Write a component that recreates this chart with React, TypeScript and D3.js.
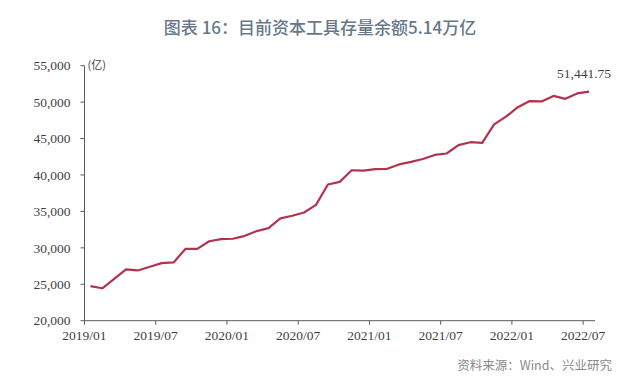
import React from "react";
import * as d3 from "d3";

const months: string[] = [
  "2019/01","2019/02","2019/03","2019/04","2019/05","2019/06","2019/07","2019/08","2019/09","2019/10","2019/11","2019/12",
  "2020/01","2020/02","2020/03","2020/04","2020/05","2020/06","2020/07","2020/08","2020/09","2020/10","2020/11","2020/12",
  "2021/01","2021/02","2021/03","2021/04","2021/05","2021/06","2021/07","2021/08","2021/09","2021/10","2021/11","2021/12",
  "2022/01","2022/02","2022/03","2022/04","2022/05","2022/06","2022/07",
];

const values: number[] = [
  24750, 24450, 25750, 27050, 26900, 27400, 27900, 28000, 29850, 29850, 30900, 31200,
  31250, 31650, 32300, 32700, 34050, 34400, 34850, 35900, 38700, 39050, 40650, 40600,
  40800, 40850, 41450, 41800, 42200, 42750, 42950, 44100, 44500, 44400, 46950, 48000,
  49300, 50150, 50100, 50850, 50450, 51200, 51441.75,
];

const xTickLabels: string[] = ["2019/01","2019/07","2020/01","2020/07","2021/01","2021/07","2022/01","2022/07"];
const yTicks: number[] = [20000, 25000, 30000, 35000, 40000, 45000, 50000, 55000];

const title = "图表 16：目前资本工具存量余额5.14万亿";
const unitLabel = "(亿)";
const lastLabel = "51,441.75";
const source = "资料来源：Wind、兴业研究";

const W = 640, H = 390;
const left = 84.5, right = 595, top = 65.7, bottom = 320.7;

export default function App() {
  const x = d3.scaleLinear().domain([0, months.length]).range([left, right]);
  const y = d3.scaleLinear().domain([20000, 55000]).range([bottom, top]);
  const line = d3.line<number>().x((_, i) => x(i + 0.5)).y((d) => y(d));
  const fmt = d3.format(",");
  const serif = "'Liberation Serif', 'Times New Roman', serif";
  const cjk = "'Noto Sans CJK SC', 'Noto Sans', sans-serif";
  const axisColor = "#5a5a5a";
  const textColor = "#3f3f3f";
  const lastIdx = values.length - 1;

  return (
    <svg width={W} height={H} style={{ position: "absolute", left: 0, top: 0, background: "#fff" }}>
      <rect x={0} y={0} width={W} height={H} fill="#fff" />
      <text x={320} y={34} textAnchor="middle" fontFamily={cjk} fontSize={17} fontWeight={500} fill="#687789">
        {title}
      </text>
      {/* y axis */}
      <line x1={left} x2={left} y1={top} y2={bottom} stroke={axisColor} strokeWidth={1} />
      {yTicks.map((t) => (
        <g key={t}>
          <line x1={left - 4} x2={left} y1={y(t)} y2={y(t)} stroke={axisColor} />
          <text x={left - 14} y={y(t)} dy="0.35em" textAnchor="end" fontFamily={serif} fontSize={13.5} fill={textColor}>
            {fmt(t)}
          </text>
        </g>
      ))}
      <text x={left + 3} y={top + 3} fontFamily={cjk} fontSize={11} fill={textColor}>{unitLabel}</text>
      {/* x axis */}
      <line x1={left} x2={right} y1={bottom} y2={bottom} stroke={axisColor} strokeWidth={1} />
      {xTickLabels.map((lab) => {
        const i = months.indexOf(lab);
        const xp = x(i);
        return (
          <g key={lab}>
            <line x1={xp} x2={xp} y1={bottom} y2={bottom + 4} stroke={axisColor} />
            <text x={xp} y={bottom + 19} textAnchor="middle" fontFamily={serif} fontSize={13.5} fill={textColor}>
              {lab}
            </text>
          </g>
        );
      })}
      <path d={line(values) || ""} fill="none" stroke="#b3334f" strokeWidth={2.2} strokeLinejoin="round" />
      <text x={x(lastIdx + 0.5) - 5} y={y(values[lastIdx]) - 14} textAnchor="middle" fontFamily={serif} fontSize={13.5} fill={textColor}>
        {lastLabel}
      </text>
      <text x={612} y={370} textAnchor="end" fontFamily={cjk} fontSize={12.5} fill="#8a8a8a">
        {source}
      </text>
    </svg>
  );
}
